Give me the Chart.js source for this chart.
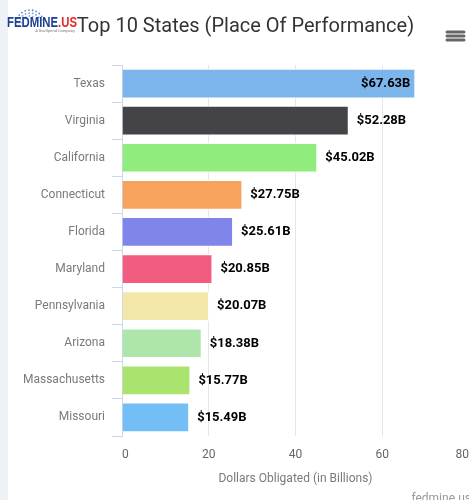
<!DOCTYPE html>
<html>
<head>
<meta charset="utf-8">
<script src="https://cdn.jsdelivr.net/npm/chart.js@4/dist/chart.umd.min.js"></script>
<style>
  html, body { margin: 0; padding: 0; overflow: hidden; width: 469px; height: 500px; }
  body { background: linear-gradient(to right, #eef2f6 0px, #eef2f6 8px, #ffffff 8px); font-family: Roboto, sans-serif; }
  #c { position: absolute; left: 0; top: 0; }
</style>
</head>
<body>
<canvas id="c" width="469" height="500"></canvas>
<script>
// ---- data ----
const categories = ["Texas", "Virginia", "California", "Connecticut", "Florida", "Maryland", "Pennsylvania", "Arizona", "Massachusetts", "Missouri"];
const values = [67.63, 52.28, 45.02, 27.75, 25.61, 20.85, 20.07, 18.38, 15.77, 15.49];
const barColors = ["#7cb5ec", "#434348", "#90ed7d", "#f7a35c", "#8085e9", "#f15c80", "#f3e8aa", "#ade5aa", "#aae46e", "#73bef5"];
const xTicks = [0, 20, 40, 60, 80];
const titleText = "Top 10 States (Place Of Performance)";
const xAxisTitle = "Dollars Obligated (in Billions)";
const creditText = "fedmine.us";

const FONT = 'Roboto, "Noto Sans", sans-serif';

const decorPlugin = {
  id: 'decor',
  afterLayout(chart) {
    const tb = chart.titleBlock;
    if (tb) { tb.left += 11; tb.right += 11; }
  },
  afterDraw(chart) {
    const ctx = chart.ctx;
    ctx.save();
    // logo dots (globe arc)
    ctx.fillStyle = '#3a6fc4';
    const cx = 30, cy = 24;
    [[8, 7], [11, 9], [14, 11]].forEach(([r, n], ri) => {
      for (let i = 0; i < n; i++) {
        const a = Math.PI * (1.05 + 0.85 * i / (n - 1));
        ctx.globalAlpha = 0.55 + 0.15 * ri;
        ctx.beginPath();
        ctx.arc(cx + r * Math.cos(a), cy + r * Math.sin(a), 0.9, 0, Math.PI * 2);
        ctx.fill();
      }
    });
    ctx.globalAlpha = 1;
    // logo text
    ctx.font = 'bold 14px "Liberation Sans Narrow", "Liberation Sans", Arial, sans-serif';
    ctx.textBaseline = 'alphabetic';
    ctx.textAlign = 'left';
    const w1 = ctx.measureText('FEDMINE').width;
    const w2 = ctx.measureText('.US').width;
    const sx = 70 / (w1 + w2);
    ctx.save();
    ctx.translate(7, 27);
    ctx.scale(sx, 1);
    ctx.fillStyle = '#1d3f93';
    ctx.fillText('FEDMINE', 0, 0);
    ctx.fillStyle = '#e5262b';
    ctx.fillText('.US', w1, 0);
    ctx.restore();
    ctx.font = '4px ' + FONT;
    ctx.fillStyle = '#777';
    ctx.textAlign = 'center';
    ctx.fillText('A GovSpend Company', 55, 32);
    // hamburger menu
    ctx.strokeStyle = '#666';
    ctx.lineWidth = 3;
    ctx.lineCap = 'round';
    [32, 36, 40].forEach(y => {
      ctx.beginPath();
      ctx.moveTo(447, y);
      ctx.lineTo(464, y);
      ctx.stroke();
    });
    // credits
    ctx.font = '12px ' + FONT;
    ctx.fillStyle = '#999';
    ctx.textAlign = 'right';
    ctx.textBaseline = 'alphabetic';
    ctx.fillText(creditText, 471, 502);
    ctx.restore();
  },
  afterDatasetsDraw(chart) {
    const ctx = chart.ctx;
    const meta = chart.getDatasetMeta(0);
    const area = chart.chartArea;
    ctx.save();
    ctx.font = 'bold 13px ' + FONT;
    ctx.fillStyle = '#000';
    ctx.textBaseline = 'middle';
    meta.data.forEach((bar, i) => {
      const label = '$' + values[i].toFixed(2) + 'B';
      const w = ctx.measureText(label).width;
      if (bar.x + 8 + w > area.right) {
        ctx.textAlign = 'right';
        ctx.fillText(label, bar.x - 5, bar.y);
      } else {
        ctx.textAlign = 'left';
        ctx.fillText(label, bar.x + 8, bar.y);
      }
    });
    ctx.restore();
  }
};

new Chart(document.getElementById('c'), {
  type: 'bar',
  data: {
    labels: categories,
    datasets: [{
      data: values,
      backgroundColor: barColors,
      borderColor: '#ffffff',
      borderWidth: 1,
      barPercentage: 0.8,
      categoryPercentage: 1.0
    }]
  },
  options: {
    indexAxis: 'y',
    responsive: false,
    animation: false,
    devicePixelRatio: 1,
    layout: { padding: { top: 0, left: 0, right: 0, bottom: 10 } },
    plugins: {
      legend: { display: false },
      tooltip: { enabled: false },
      title: {
        display: true,
        text: titleText,
        color: '#333333',
        font: { family: FONT, size: 20, weight: 'normal', lineHeight: 1.2 },
        padding: { top: 15, bottom: 26 }
      }
    },
    scales: {
      x: {
        min: 0,
        max: 80,
        afterBuildTicks(scale) { scale.ticks = xTicks.map(v => ({ value: v })); },
        afterFit(scale) {
          scale.height = 54;
          scale.paddingLeft = 0;
          scale.paddingRight = 0;
        },
        ticks: {
          color: '#666666',
          font: { family: FONT, size: 12 },
          padding: 12,
          align: 'inner',
          maxRotation: 0
        },
        grid: {
          drawTicks: false,
          color: (ctx) => (ctx.tick && (ctx.tick.value === 0 || ctx.tick.value === 80)) ? 'rgba(0,0,0,0)' : '#e6e6e6',
          lineWidth: 1
        },
        border: { display: false },
        title: {
          display: true,
          text: xAxisTitle,
          color: '#7a7a7a',
          font: { family: FONT, size: 12, lineHeight: 1.2 },
          padding: { top: 9, bottom: 4 }
        }
      },
      y: {
        afterFit(scale) {
          scale.width = 122;
          scale.paddingTop = 0;
          scale.paddingBottom = 0;
        },
        ticks: {
          color: '#7a7a7a',
          font: { family: FONT, size: 12 },
          padding: 7
        },
        grid: {
          offset: true,
          drawOnChartArea: false,
          drawTicks: true,
          tickLength: 10,
          color: '#ccd6eb',
          lineWidth: 1
        },
        border: { display: true, color: '#ccd6eb', width: 1 }
      }
    }
  },
  plugins: [decorPlugin]
});
</script>
</body>
</html>
